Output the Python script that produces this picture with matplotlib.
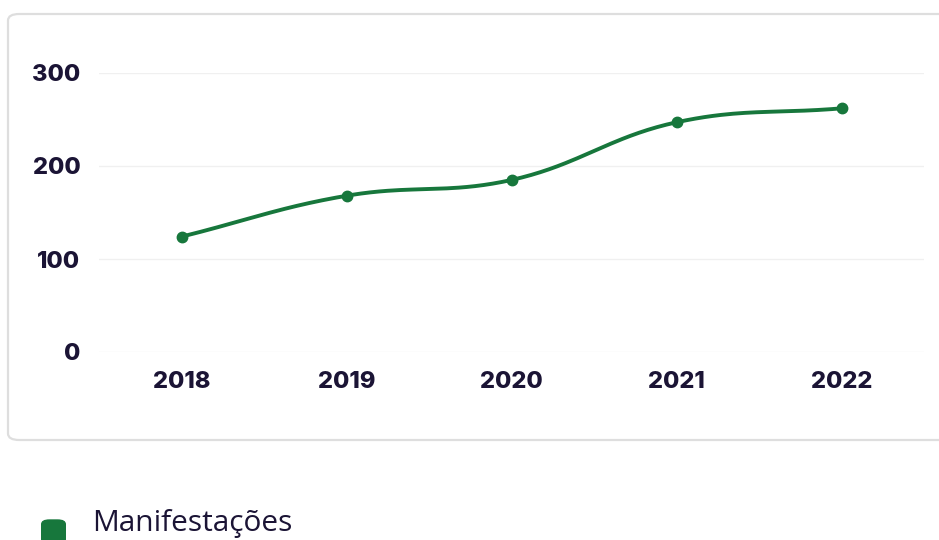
import matplotlib.pyplot as plt
import numpy as np
from matplotlib.patches import FancyBboxPatch

years = ["2018", "2019", "2020", "2021", "2022"]
manifestacoes = [124, 168, 185, 247, 262]
y_ticks = [0, 100, 200, 300]

GREEN = "#17773c"
INK = "#1b1435"


def chartjs_curve(xs, ys, sx, sy, tension=0.4, n=40):
    # bezier smoothing like Chart.js, distances measured in pixel space
    px = np.asarray(xs, float) * sx
    py = np.asarray(ys, float) * sy
    k = len(px)
    c1 = np.zeros((k, 2))
    c2 = np.zeros((k, 2))
    for i in range(k):
        p0 = np.array([px[max(i - 1, 0)], py[max(i - 1, 0)]])
        p1 = np.array([px[i], py[i]])
        p2 = np.array([px[min(i + 1, k - 1)], py[min(i + 1, k - 1)]])
        d01 = np.hypot(*(p1 - p0))
        d12 = np.hypot(*(p2 - p1))
        tot = d01 + d12
        s01 = d01 / tot if tot else 0
        s12 = d12 / tot if tot else 0
        c1[i] = p1 - tension * s01 * (p2 - p0)
        c2[i] = p1 + tension * s12 * (p2 - p0)
    out_x, out_y = [], []
    t = np.linspace(0, 1, n)
    for i in range(k - 1):
        a = np.array([px[i], py[i]])
        b = c2[i]
        c = c1[i + 1]
        d = np.array([px[i + 1], py[i + 1]])
        pts = ((1 - t) ** 3)[:, None] * a + (3 * (1 - t) ** 2 * t)[:, None] * b \
            + (3 * (1 - t) * t ** 2)[:, None] * c + (t ** 3)[:, None] * d
        out_x.extend(pts[:, 0])
        out_y.extend(pts[:, 1])
    return np.array(out_x) / sx, np.array(out_y) / sy


fig = plt.figure(figsize=(9.39, 5.40), dpi=100)
fig.patch.set_facecolor("white")

# card border around the chart
card = FancyBboxPatch((8 / 939, (540 - 440) / 540), 1.2, 426 / 540,
                      boxstyle="round,pad=0,rounding_size=0.012",
                      transform=fig.transFigure, facecolor="white",
                      edgecolor="#dedede", linewidth=1.6, zorder=-1)
fig.patches.append(card)

ax = fig.add_axes([99 / 939, (540 - 352) / 540, 825 / 939, 279 / 540])
ax.set_zorder(2)
ax.set_facecolor("none")
x = np.arange(len(years))
cx, cy = chartjs_curve(x, manifestacoes, 165, 0.93)
ax.plot(cx, cy, color=GREEN, lw=2.8, solid_capstyle="round", zorder=3)
ax.plot(x, manifestacoes, "o", color=GREEN, ms=7.5, zorder=4)

ax.set_xlim(-0.5, len(years) - 0.5)
ax.set_ylim(0, 300)
ax.set_xticks(x)
ax.set_xticklabels(years)
ax.set_yticks(y_ticks)
for s in ax.spines.values():
    s.set_visible(False)
ax.tick_params(length=0)
ax.tick_params(axis="y", pad=13.5)
ax.tick_params(axis="x", pad=14)
ax.grid(axis="y", color="#f0f0f0", lw=1)
for lab in ax.get_xticklabels() + ax.get_yticklabels():
    lab.set_fontfamily(["Inter", "DejaVu Sans"])
    lab.set_fontweight("heavy")
    lab.set_fontsize(17)
    lab.set_color(INK)

# legend below the card
fig.patches.append(FancyBboxPatch((41 / 939, -0.008), 25 / 939, 25 / 540,
                                  boxstyle="round,pad=0,rounding_size=0.009",
                                  transform=fig.transFigure, facecolor=GREEN,
                                  edgecolor="none"))
fig.text(92 / 939, 2 / 540, "Manifestações", fontsize=21.5,
         family=["Open Sans", "DejaVu Sans"], color=INK, va="bottom", ha="left")

fig.savefig("out.png", dpi=100)
